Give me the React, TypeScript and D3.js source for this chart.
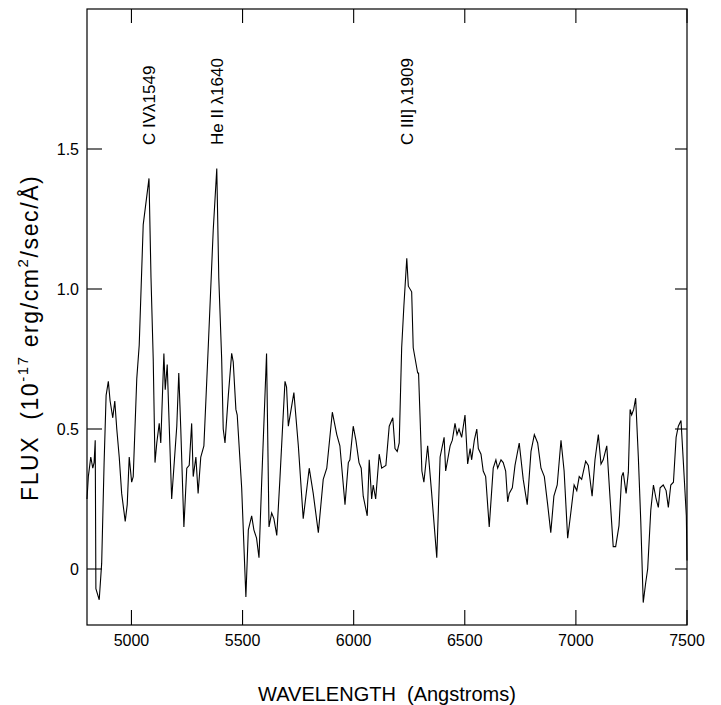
import React from "react";
import * as d3 from "d3";

const wavelength: number[] = [
  4800, 4806, 4817, 4826, 4832, 4837, 4840, 4855, 4866, 4877, 4886, 4896, 4904, 4916, 4925, 4934, 4945, 4956, 4972, 4981,
  4990, 5001, 5008, 5024, 5035, 5053, 5079, 5088, 5098, 5106, 5114, 5125, 5132, 5146, 5152, 5161, 5168, 5181, 5204, 5213,
  5222, 5236, 5249, 5260, 5271, 5278, 5290, 5300, 5312, 5326, 5346, 5368, 5384, 5393, 5406, 5413, 5421, 5436, 5451, 5458,
  5470, 5476, 5496, 5515, 5526, 5541, 5551, 5563, 5574, 5586, 5608, 5619, 5631, 5641, 5654, 5668, 5681, 5691, 5698, 5706,
  5731, 5751, 5773, 5800, 5818, 5841, 5863, 5879, 5904, 5924, 5938, 5961, 5976, 5983, 5998, 6010, 6024, 6034, 6043, 6061,
  6070, 6081, 6088, 6099, 6115, 6126, 6145, 6160, 6176, 6186, 6196, 6205, 6216, 6226, 6239, 6246, 6261, 6268, 6288, 6292,
  6307, 6316, 6333, 6351, 6366, 6374, 6389, 6407, 6414, 6434, 6444, 6456, 6465, 6474, 6486, 6501, 6513, 6524, 6531, 6543,
  6554, 6561, 6573, 6583, 6594, 6610, 6628, 6640, 6648, 6663, 6673, 6684, 6693, 6700, 6714, 6726, 6745, 6763, 6781, 6798,
  6813, 6828, 6843, 6858, 6873, 6887, 6901, 6916, 6933, 6947, 6963, 6977, 6992, 7004, 7015, 7026, 7044, 7056, 7073, 7086,
  7101, 7113, 7123, 7139, 7154, 7168, 7179, 7194, 7206, 7213, 7226, 7236, 7244, 7251, 7260, 7269, 7281, 7292, 7303, 7314,
  7323, 7337, 7349, 7361, 7371, 7379, 7393, 7406, 7416, 7427, 7439, 7451, 7461, 7473, 7483, 7497, 7500,
];

const flux: number[] = [
  0.25, 0.33, 0.40, 0.36, 0.38, 0.46, -0.07, -0.11, 0.02, 0.38, 0.62, 0.67, 0.60, 0.54, 0.60, 0.50, 0.40, 0.27, 0.17, 0.23,
  0.40, 0.31, 0.33, 0.68, 0.80, 1.23, 1.395, 1.04, 0.75, 0.38, 0.45, 0.52, 0.45, 0.77, 0.64, 0.73, 0.56, 0.25, 0.51, 0.70,
  0.50, 0.15, 0.36, 0.37, 0.52, 0.33, 0.40, 0.27, 0.40, 0.44, 0.80, 1.21, 1.43, 1.04, 0.75, 0.50, 0.45, 0.62, 0.77, 0.74,
  0.57, 0.55, 0.29, -0.10, 0.14, 0.19, 0.14, 0.11, 0.04, 0.31, 0.77, 0.15, 0.20, 0.18, 0.12, 0.32, 0.52, 0.67, 0.65, 0.51,
  0.63, 0.44, 0.18, 0.36, 0.27, 0.13, 0.32, 0.36, 0.56, 0.48, 0.44, 0.23, 0.38, 0.39, 0.51, 0.46, 0.38, 0.36, 0.26, 0.19,
  0.39, 0.25, 0.30, 0.25, 0.41, 0.36, 0.37, 0.51, 0.54, 0.43, 0.42, 0.45, 0.79, 0.94, 1.11, 1.01, 0.99, 0.79, 0.70, 0.70,
  0.35, 0.31, 0.44, 0.27, 0.12, 0.04, 0.40, 0.47, 0.35, 0.44, 0.46, 0.52, 0.48, 0.50, 0.47, 0.55, 0.375, 0.43, 0.39, 0.46,
  0.50, 0.43, 0.41, 0.35, 0.33, 0.15, 0.36, 0.39, 0.36, 0.39, 0.38, 0.35, 0.24, 0.27, 0.29, 0.37, 0.45, 0.32, 0.23, 0.42,
  0.48, 0.45, 0.36, 0.33, 0.23, 0.13, 0.26, 0.30, 0.46, 0.35, 0.11, 0.20, 0.30, 0.28, 0.33, 0.32, 0.385, 0.37, 0.26, 0.39,
  0.48, 0.375, 0.39, 0.44, 0.25, 0.08, 0.08, 0.155, 0.33, 0.345, 0.27, 0.345, 0.57, 0.55, 0.57, 0.61, 0.40, 0.17, -0.12, -0.05,
  0.0, 0.21, 0.30, 0.25, 0.22, 0.29, 0.30, 0.28, 0.22, 0.30, 0.31, 0.47, 0.51, 0.53, 0.39, 0.19, 0.03,
];

const xTicks: number[] = [5000, 5500, 6000, 6500, 7000, 7500];
const yTicks: number[] = [0, 0.5, 1.0, 1.5];
const yTickLabels: string[] = ["0", "0.5", "1.0", "1.5"];

const lineLabels: string[] = ["C IVλ1549", "He II λ1640", "C III] λ1909"];
const lineLabelPos: number[] = [5079, 5384, 6239];

const FONT = "'Liberation Sans', Arial, Helvetica, sans-serif";

export default function App() {
  const width = 721;
  const height = 705;
  const left = 87;
  const right = 687;
  const top = 9;
  const bottom = 625;

  const x = d3.scaleLinear().domain([4800, 7500]).range([left, right]);
  const y = d3.scaleLinear().domain([-0.2, 2.0]).range([bottom, top]);

  const pts: [number, number][] = wavelength.map((w, i) => [w, flux[i]]);
  const line = d3
    .line<[number, number]>()
    .x((d) => x(d[0]))
    .y((d) => y(d[1]));

  return (
    <svg
      width={width}
      height={height}
      style={{ position: "absolute", left: 0, top: 0, background: "#fff" }}
      fontFamily={FONT}
    >
      <rect x={0} y={0} width={width} height={height} fill="#fff" />
      <rect x={left} y={top} width={right - left} height={bottom - top} fill="none" stroke="#000" strokeWidth={1.2} />
      {xTicks.map((t) => (
        <g key={"xt" + t}>
          <line x1={x(t)} x2={x(t)} y1={bottom} y2={bottom - 15} stroke="#000" strokeWidth={1.1} />
          <line x1={x(t)} x2={x(t)} y1={top} y2={top + 14} stroke="#000" strokeWidth={1.1} />
          <text x={x(t)} y={646} textAnchor="middle" fontSize={16} fill="#000">
            {t}
          </text>
        </g>
      ))}
      {yTicks.map((t, i) => (
        <g key={"yt" + t}>
          <line x1={left} x2={left + 15} y1={y(t)} y2={y(t)} stroke="#000" strokeWidth={1.1} />
          <line x1={right} x2={right - 12} y1={y(t)} y2={y(t)} stroke="#000" strokeWidth={1.1} />
          <text x={79} y={y(t) + 6} textAnchor="end" fontSize={16} fill="#000">
            {yTickLabels[i]}
          </text>
        </g>
      ))}
      <path d={line(pts) || ""} fill="none" stroke="#000" strokeWidth={1.1} strokeLinejoin="miter" />
      {lineLabels.map((s, i) => (
        <text
          key={s}
          transform={`translate(${x(lineLabelPos[i]) + 6},145) rotate(-90)`}
          fontSize={17}
          fill="#000"
        >
          {s}
        </text>
      ))}
      <text x={387} y={701} textAnchor="middle" fontSize={20} fill="#000">
        WAVELENGTH{"\u00a0\u00a0"}(Angstroms)
      </text>
      <text transform="translate(38,501) rotate(-90)" fontSize={23} letterSpacing={1.6} fill="#000">
        FLUX{"\u00a0\u00a0"}(10
        <tspan dy={-10} fontSize={15}>-17</tspan>
        <tspan dy={10}>{"\u00a0"}erg/cm</tspan>
        <tspan dy={-10} fontSize={15}>2</tspan>
        <tspan dy={10}>/sec/Å)</tspan>
      </text>
    </svg>
  );
}
